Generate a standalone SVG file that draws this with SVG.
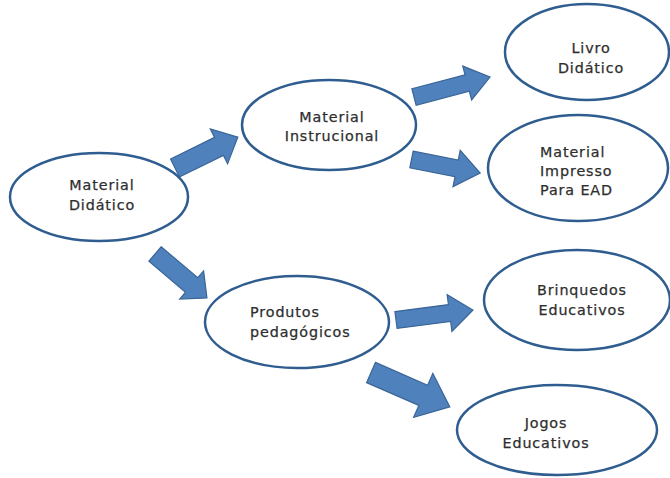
<svg xmlns="http://www.w3.org/2000/svg" width="670" height="478" viewBox="0 0 670 478">
<style>
.node{fill:#ffffff;stroke:#2f5d8f;stroke-width:2.5}
.lbl{font-family:"DejaVu Sans",sans-serif;font-size:14.3px;letter-spacing:0.9px;fill:#2e2e2e;stroke:#2e2e2e;stroke-width:0.25}
.c{text-anchor:middle}
.arrow{fill:#4f81bd;stroke:#3a6597;stroke-width:1.2;stroke-linejoin:miter}
</style>
<rect width="670" height="478" fill="#ffffff"/>
<g id="connectors">
<path class="arrow" transform="translate(175,168) rotate(-26.2)" d="M0,-10 L49,-10 L49,-19.5 L70,0 L49,19.5 L49,10 L0,10 Z"/>
<path class="arrow" transform="translate(414,97) rotate(-14.7)" d="M0,-8.5 L55,-8.5 L55,-17.5 L78.6,0 L55,17.5 L55,8.5 L0,8.5 Z"/>
<path class="arrow" transform="translate(411.5,159.5) rotate(11.2)" d="M0,-8.5 L46,-8.5 L46,-18.5 L70,0 L46,18.5 L46,8.5 L0,8.5 Z"/>
<path class="arrow" transform="translate(155,254) rotate(40.2)" d="M0,-9.5 L48,-9.5 L48,-18.5 L68,0 L48,18.5 L48,9.5 L0,9.5 Z"/>
<path class="arrow" transform="translate(396,320) rotate(-7.4)" d="M0,-8.5 L54,-8.5 L54,-18.5 L77.6,0 L54,18.5 L54,8.5 L0,8.5 Z"/>
<path class="arrow" transform="translate(371,372.5) rotate(23.6)" d="M0,-11 L57,-11 L57,-24 L86,0 L57,24 L57,11 L0,11 Z"/>
</g>
<g id="material-didatico">
<ellipse class="node" cx="99" cy="197" rx="89" ry="44"/>
<text class="lbl c" x="102" y="190">Material</text>
<text class="lbl c" x="102" y="210">Didático</text>
</g>
<g id="material-instrucional">
<ellipse class="node" cx="329" cy="125" rx="87" ry="45"/>
<text class="lbl c" x="332" y="122">Material</text>
<text class="lbl c" x="332" y="141">Instrucional</text>
</g>
<g id="livro-didatico">
<ellipse class="node" cx="587" cy="52" rx="82" ry="48"/>
<text class="lbl c" x="591" y="53">Livro</text>
<text class="lbl c" x="591" y="73">Didático</text>
</g>
<g id="material-impresso">
<ellipse class="node" cx="578" cy="168" rx="90" ry="53"/>
<text class="lbl" x="540" y="157">Material</text>
<text class="lbl" x="540" y="176">Impresso</text>
<text class="lbl" x="540" y="195">Para EAD</text>
</g>
<g id="produtos-pedagogicos">
<ellipse class="node" cx="297" cy="322" rx="92" ry="46"/>
<text class="lbl" x="250" y="317">Produtos</text>
<text class="lbl" x="250" y="337">pedagógicos</text>
</g>
<g id="brinquedos-educativos">
<ellipse class="node" cx="577" cy="300" rx="93" ry="50"/>
<text class="lbl c" x="582" y="295">Brinquedos</text>
<text class="lbl c" x="582" y="315">Educativos</text>
</g>
<g id="jogos-educativos">
<ellipse class="node" cx="557" cy="430" rx="100" ry="45"/>
<text class="lbl c" x="546" y="428">Jogos</text>
<text class="lbl c" x="546" y="448">Educativos</text>
</g>
</svg>
